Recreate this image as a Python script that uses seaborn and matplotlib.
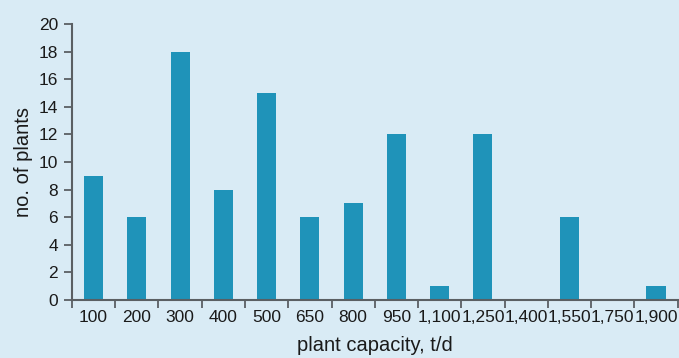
import matplotlib
matplotlib.use("Agg")
import matplotlib.pyplot as plt
import seaborn as sns
import pandas as pd
import numpy as np

# data
capacity = ["100", "200", "300", "400", "500", "650", "800", "950",
            "1,100", "1,250", "1,400", "1,550", "1,750", "1,900"]
plants = [9, 6, 18, 8, 15, 6, 7, 12, 1, 12, 0, 6, 0, 1]
y_ticks = list(range(0, 21, 2))

bg = "#d9ebf5"
bar_col = "#1f93b9"
axis_col = "#5a5f63"

sns.set_theme(style="ticks")
plt.rcParams["font.family"] = ["Liberation Sans Narrow", "Liberation Sans", "DejaVu Sans"]

df = pd.DataFrame({"capacity": capacity, "plants": plants})

fig = plt.figure(figsize=(6.79, 3.58), dpi=100, facecolor=bg)
ax = fig.add_axes([0.106, 0.162, 0.892, 0.771])
ax.set_facecolor(bg)

sns.barplot(data=df, x="capacity", y="plants", color=bar_col, width=0.44,
            saturation=1, linewidth=0, ax=ax)

ax.set_xlim(-0.5, len(capacity) - 0.5)
ax.set_ylim(0, 20)
ax.set_yticks(y_ticks)
ax.set_xticks(range(len(capacity)))
ax.set_xticklabels(capacity)
ax.set_xticks(np.arange(-0.5, len(capacity), 1), minor=True)

ax.tick_params(axis="x", which="major", bottom=True, length=0, pad=7,
               labelsize=12.5, colors="#1a1a1a")
ax.tick_params(axis="x", which="minor", bottom=True, length=6, width=1.3,
               color=axis_col, direction="out")
ax.tick_params(axis="y", left=True, length=6, width=1.3, color=axis_col, labelsize=12.5,
               labelcolor="#1a1a1a", direction="out", pad=4)

for s in ["top", "right"]:
    ax.spines[s].set_visible(False)
for s in ["left", "bottom"]:
    ax.spines[s].set_color(axis_col)
    ax.spines[s].set_linewidth(1.5)

ax.set_xlabel("plant capacity, t/d", fontsize=14.5, color="#1a1a1a", labelpad=8)
ax.set_ylabel("no. of plants", fontsize=14.5, color="#1a1a1a", labelpad=4)

fig.savefig("out.png", dpi=100, facecolor=bg)
